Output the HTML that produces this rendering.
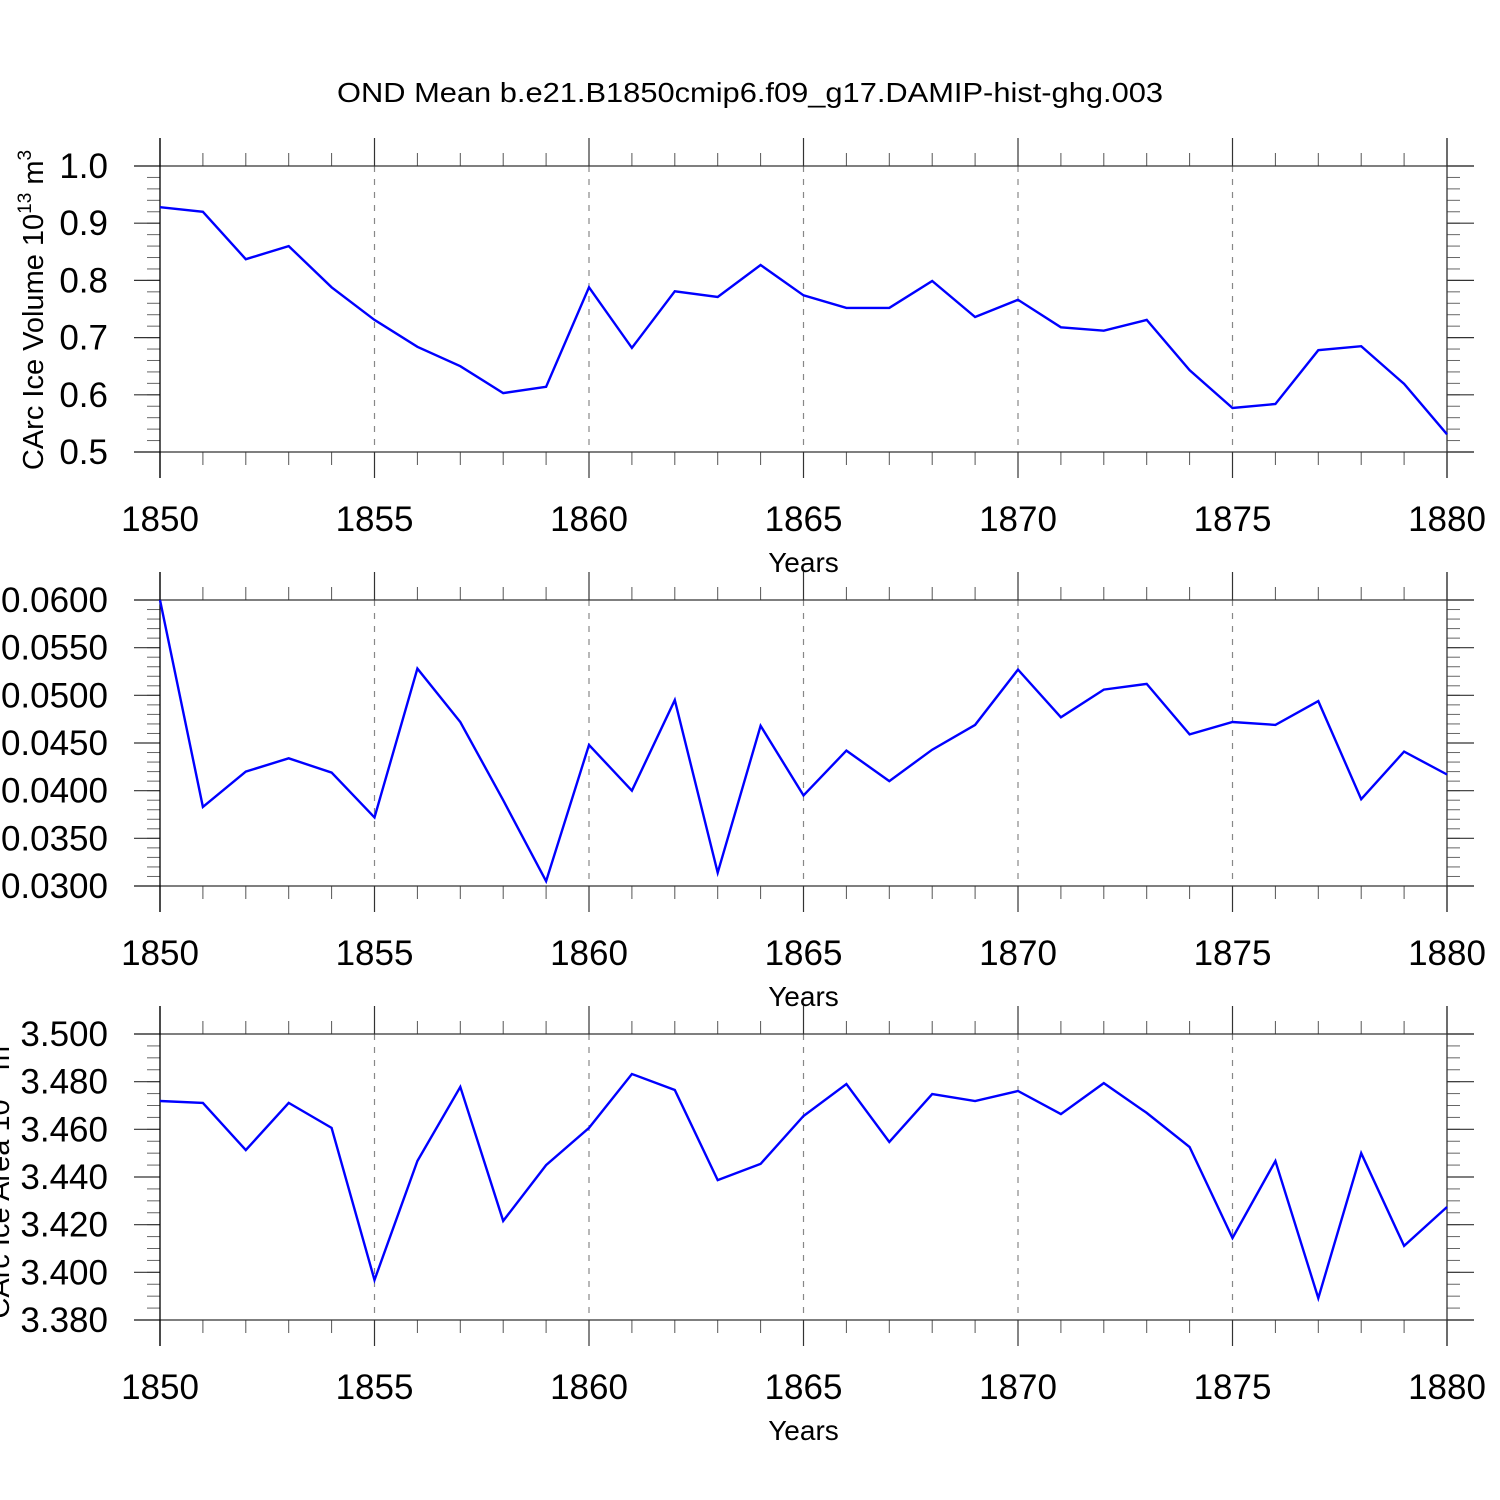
<!DOCTYPE html>
<html><head><meta charset="utf-8">
<style>
html,body{margin:0;padding:0;background:#fff;}
svg{display:block;font-family:"Liberation Sans",Arial,sans-serif;}
</style></head>
<body>
<svg id="chart" width="1500" height="1500" viewBox="0 0 1500 1500" xmlns="http://www.w3.org/2000/svg">
<rect width="1500" height="1500" fill="#fff"/>
<text x="750" y="102" font-size="28" text-anchor="middle" textLength="826" lengthAdjust="spacingAndGlyphs">OND Mean b.e21.B1850cmip6.f09_g17.DAMIP-hist-ghg.003</text>
</svg>
<script>
const years = [1850,1851,1852,1853,1854,1855,1856,1857,1858,1859,1860,1861,1862,1863,1864,1865,1866,1867,1868,1869,1870,1871,1872,1873,1874,1875,1876,1877,1878,1879,1880];
const volumeValues = [0.928,0.920,0.837,0.860,0.788,0.731,0.684,0.650,0.603,0.614,0.788,0.682,0.781,0.771,0.827,0.774,0.752,0.752,0.799,0.736,0.766,0.718,0.712,0.731,0.643,0.577,0.584,0.678,0.685,0.619,0.531];
const middleValues = [0.0600,0.0383,0.0420,0.0434,0.0419,0.0372,0.0528,0.0472,0.0390,0.0305,0.0448,0.0400,0.0495,0.0314,0.0468,0.0395,0.0442,0.0410,0.0443,0.0469,0.0527,0.0477,0.0506,0.0512,0.0459,0.0472,0.0469,0.0494,0.0391,0.0441,0.0417];
const areaValues = [3.4719,3.4711,3.4513,3.4711,3.4606,3.3968,3.4467,3.4778,3.4216,3.4450,3.4606,3.4832,3.4765,3.4387,3.4455,3.4656,3.4790,3.4547,3.4748,3.4719,3.4761,3.4664,3.4794,3.4669,3.4526,3.4144,3.4467,3.3892,3.4500,3.4111,3.4274];
const xTickLabels = ["1850","1855","1860","1865","1870","1875","1880"];
const volumeTicks = ["0.5","0.6","0.7","0.8","0.9","1.0"];
const middleTicks = ["0.0300","0.0350","0.0400","0.0450","0.0500","0.0550","0.0600"];
const areaTicks = ["3.380","3.400","3.420","3.440","3.460","3.480","3.500"];

const NS = "http://www.w3.org/2000/svg";
const svg = document.getElementById('chart');
const X0 = 160, X1 = 1447, XMIN = 1850, XMAX = 1880;
function xs(v){ return X0 + (v - XMIN) / (XMAX - XMIN) * (X1 - X0); }
function mk(tag, attrs, parent){
  const e = document.createElementNS(NS, tag);
  for (const k in attrs) e.setAttribute(k, attrs[k]);
  (parent || svg).appendChild(e);
  return e;
}

const panels = [
  {name:'volume', top:166, bottom:452, ymin:0.5, ymax:1.0, ticks:volumeTicks, minor:0.02, values:volumeValues},
  {name:'middle', top:600, bottom:886, ymin:0.03, ymax:0.06, ticks:middleTicks, minor:0.001, values:middleValues},
  {name:'area', top:1034, bottom:1320, ymin:3.38, ymax:3.50, ticks:areaTicks, minor:0.005, values:areaValues}
];

panels.forEach(p => {
  const g = mk('g', {});
  
  
  const ys = v => p.bottom - (v - p.ymin) / (p.ymax - p.ymin) * (p.bottom - p.top);
  xTickLabels.forEach(t => {
    const yr = +t;
    if (yr === XMIN || yr === XMAX) return;
    const l = mk('line', {x1:xs(yr), x2:xs(yr), y1:p.top, y2:p.bottom, stroke:'#888', 'stroke-width':1.2, 'stroke-dasharray':'6,7'}, g);
    
    
  });
  years.forEach(yr => {
    if ((yr - XMIN) % 5 === 0) return;
    mk('line', {x1:xs(yr), x2:xs(yr), y1:p.top-13, y2:p.top, stroke:'#555', 'stroke-width':1}, g);
    mk('line', {x1:xs(yr), x2:xs(yr), y1:p.bottom, y2:p.bottom+13, stroke:'#555', 'stroke-width':1}, g);
  });
  xTickLabels.forEach(t => {
    const yr = +t;
    mk('line', {x1:xs(yr), x2:xs(yr), y1:p.top-28, y2:p.top, stroke:'#333', 'stroke-width':1.2}, g);
    mk('line', {x1:xs(yr), x2:xs(yr), y1:p.bottom, y2:p.bottom+26, stroke:'#333', 'stroke-width':1.2}, g);
    const tx = mk('text', {x:xs(yr), y:p.bottom+79, 'font-size':35, 'text-anchor':'middle'}, g);
    tx.textContent = t;
    
    
  });
  const nMinor = Math.round((p.ymax - p.ymin) / p.minor);
  for (let i = 1; i < nMinor; i++){
    const y = ys(p.ymin + i * p.minor);
    mk('line', {x1:X0-13, x2:X0, y1:y, y2:y, stroke:'#666', 'stroke-width':1}, g);
    mk('line', {x1:X1, x2:X1+13, y1:y, y2:y, stroke:'#666', 'stroke-width':1}, g);
  }
  p.ticks.forEach(t => {
    const y = ys(+t);
    mk('line', {x1:X0-26, x2:X0, y1:y, y2:y, stroke:'#333', 'stroke-width':1.2}, g);
    mk('line', {x1:X1, x2:X1+27, y1:y, y2:y, stroke:'#333', 'stroke-width':1.2}, g);
    const tx = mk('text', {x:108, y:y+12, 'font-size':35, 'text-anchor':'end'}, g);
    tx.textContent = t;
    
    
  });
  mk('line', {x1:X0-26, x2:X1+27, y1:p.top, y2:p.top, stroke:'#333', 'stroke-width':1.3}, g);
  mk('line', {x1:X0-26, x2:X1+27, y1:p.bottom, y2:p.bottom, stroke:'#333', 'stroke-width':1.3}, g);
  mk('line', {x1:X0, x2:X0, y1:p.top-28, y2:p.bottom+26, stroke:'#000', 'stroke-width':1.3}, g);
  mk('line', {x1:X1, x2:X1, y1:p.top-28, y2:p.bottom+26, stroke:'#333', 'stroke-width':1.3}, g);
  const pts = years.map((yr, i) => xs(yr).toFixed(1) + ',' + ys(p.values[i]).toFixed(1)).join(' ');
  const pl = mk('polyline', {points:pts, fill:'none', stroke:'#0000ff', 'stroke-width':2.4, 'stroke-linejoin':'miter'}, g);
  
  
  const xt = mk('text', {x:(X0+X1)/2, y:p.bottom+120, 'font-size':28, 'text-anchor':'middle'}, g);
  xt.textContent = 'Years';
  
  
});

const yt1 = mk('text', {transform:'translate(43,310) rotate(-90)', 'font-size':29, 'text-anchor':'middle'});


yt1.innerHTML = 'CArc Ice Volume 10<tspan font-size="19" dy="-12">13</tspan><tspan dy="12"> m</tspan><tspan font-size="19" dy="-12">3</tspan>';
const yt3 = mk('text', {transform:'translate(9,1177) rotate(-90)', 'font-size':29, 'text-anchor':'middle'});


yt3.innerHTML = 'CArc Ice Area 10<tspan font-size="19" dy="-12">13</tspan><tspan dy="12"> m</tspan><tspan font-size="19" dy="-12">2</tspan>';
</script>
</body></html>
